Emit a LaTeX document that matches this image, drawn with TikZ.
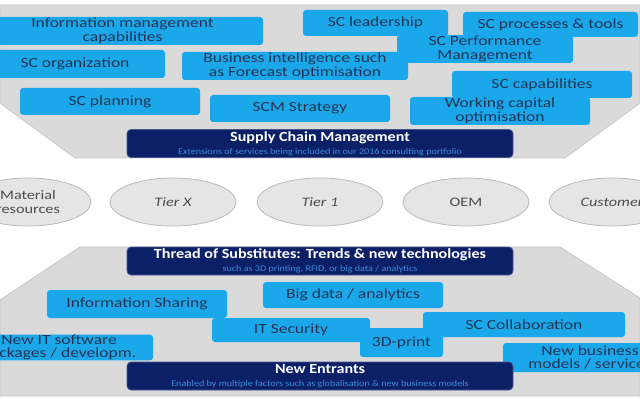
\documentclass[tikz,border=0pt]{standalone}
\usepackage{fontspec}
\setmainfont{Carlito}
\newfontfamily\boxfont[FakeStretch=1.25]{Carlito}
\newfontfamily\bannerfont[FakeStretch=1.15]{Carlito}
\usetikzlibrary{shapes.geometric}
\definecolor{skyblue}{RGB}{27,168,234}
\definecolor{navy}{RGB}{12,32,104}
\definecolor{panelgrey}{RGB}{218,218,218}
\definecolor{boxtext}{RGB}{35,52,85}
\definecolor{subblue}{RGB}{60,140,215}
\tikzset{px/.style 2 args={minimum width=#1*0.5pt,minimum height=#2*0.5pt}}

\begin{document}
\begin{tikzpicture}[x=0.5pt,y=-0.5pt]
	% `lever' is used for the light blue boxes.
	% `banner' is used for the dark title bars, `stage' for the chain.
	\tikzstyle{lever} = [fill=skyblue,rounded corners=1.5pt,inner sep=0pt,align=center,text=boxtext,font=\boxfont\fontsize{7}{6.8}\selectfont]
	\tikzstyle{banner} = [fill=navy,draw=navy!75!white,rounded corners=2pt,inner sep=0pt,align=center,text=white,px={386}{28},font=\bannerfont\fontsize{7}{6.5}\selectfont\bfseries]
	\tikzstyle{stage} = [ellipse,draw=gray!55,fill=gray!20,inner sep=0pt,px={126}{48},align=center,text=black!70,font=\boxfont\fontsize{6.5}{6.8}\selectfont]
	\tikzstyle{panel} = [fill=panelgrey,draw=gray!45]
	\newcommand{\sub}[1]{{\fontsize{4.4}{5.5}\selectfont\mdseries\color{subblue}#1}}
	\useasboundingbox (0,0) rectangle (640,400);
	\clip (0,0) rectangle (640,400);
	%
	% Grey panels.
	\path[panel] (0,5) -- (640,5) -- (640,103) -- (565,158) -- (75,158) -- (0,103) -- cycle;
	\path[panel] (80,247) -- (560,247) -- (640,298) -- (640,396) -- (0,396) -- (0,300) -- cycle;
	%
	% Upper levers.
	\node[lever,px={281}{28}] (infomgmt) at (122.5,31) {Information management\\capabilities};
	\node[lever,px={180}{28}] (scorg) at (75,64) {SC organization};
	\node[lever,px={226}{28}] (bi) at (295,66) {Business intelligence such\\as Forecast optimisation};
	\node[lever,px={180}{27}] (scplan) at (110,101.5) {SC planning};
	\node[lever,px={180}{27}] (scmstrat) at (300,108.5) {SCM Strategy};
	\node[lever,px={145}{26}] (sclead) at (375.5,23) {SC leadership};
	\node[lever,px={175}{25}] (scproc) at (550.5,24.5) {SC processes \& tools};
	\node[lever,px={176}{28}] (scperf) at (485,49) {SC Performance\\Management};
	\node[lever,px={180}{27}] (sccap) at (542,84.5) {SC capabilities};
	\node[lever,px={180}{28}] (wcap) at (500,111) {Working capital\\optimisation};
	\node[banner] (scm) at (320,143.5) {Supply Chain Management\\\sub{Extensions of services being included in our 2016 consulting portfolio}};
	%
	% The chain.
	\node[stage] (material) at (28,202) {Material\\resources};
	\node[stage] (tierx) at (173,202) {\itshape Tier X};
	\node[stage] (tier1) at (320,202) {\itshape Tier 1};
	\node[stage] (oem) at (466,202) {OEM};
	\node[stage] (customer) at (612,202) {\itshape Customer};
	%
	% Lower levers.
	\node[banner] (thread) at (320,261) {Thread of Substitutes: Trends \& new technologies\\\sub{such as 3D printing, RFID, or big data / analytics}};
	\node[lever,px={180}{28}] (infoshare) at (137,304) {Information Sharing};
	\node[lever,px={180}{26}] (bigdata) at (353,295) {Big data / analytics};
	\node[lever,px={158}{24}] (itsec) at (291,330) {IT Security};
	\node[lever,px={83}{29}] (print) at (401.5,342.5) {3D-print};
	\node[lever,px={202}{25}] (sccollab) at (524,324.5) {SC Collaboration};
	\node[lever,px={188}{25}] (newit) at (59,347.5) {New IT software\\packages / developm.};
	\node[lever,px={174}{29}] (newbiz) at (590,357.5) {New business\\models / services};
	\node[banner] (newent) at (320,376) {New Entrants\\\sub{Enabled by multiple factors such as globalisation \& new business models}};
%
\end{tikzpicture}
\end{document}
